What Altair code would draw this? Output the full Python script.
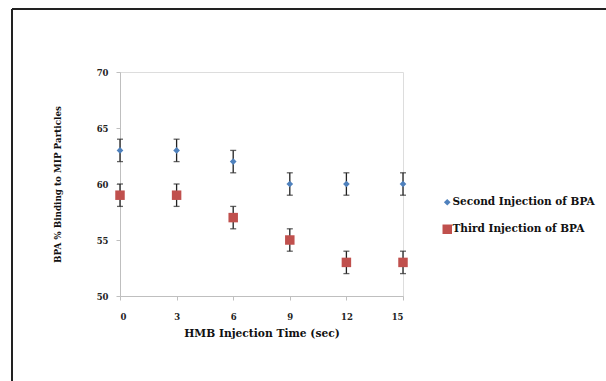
import altair as alt
import pandas as pd

times = [0, 3, 6, 9, 12, 15]
second = [63, 63, 62, 60, 60, 60]
third = [59, 59, 57, 55, 53, 53]
err_second = [1, 1, 1, 1, 1, 1]
err_third = [1, 1, 1, 1, 1, 1]
series_names = ["Second Injection of BPA", "Third Injection of BPA"]

rows = []
for t, v, e in zip(times, second, err_second):
    rows.append({"t": t, "v": v, "lo": v - e, "hi": v + e, "s": series_names[0]})
for t, v, e in zip(times, third, err_third):
    rows.append({"t": t, "v": v, "lo": v - e, "hi": v + e, "s": series_names[1]})
df = pd.DataFrame(rows)

FONT = "DejaVu Serif"
W, H = 283, 224
PL, PT = 120, 72

x = alt.X("t:Q", scale=alt.Scale(domain=[0, 15], nice=False, zero=False),
          axis=alt.Axis(values=times, title="HMB Injection Time  (sec)", grid=False,
                        domainColor="#bfbfbf", tickColor="#bfbfbf", tickSize=4,
                        labelFont=FONT, labelFontWeight="bold", labelFontSize=8.5, labelColor="#222",
                        labelPadding=12, titleFont=FONT, titleFontWeight="bold", titleFontSize=10.7,
                        titleColor="#111", titleY=37, titleBaseline="middle"))
y = alt.Y("v:Q", scale=alt.Scale(domain=[50, 70], nice=False, zero=False),
          axis=alt.Axis(values=[50, 55, 60, 65, 70], title="BPA % Binding to MIP Particles", grid=False,
                        domainColor="#bfbfbf", tickColor="#bfbfbf", tickSize=4,
                        labelFont=FONT, labelFontWeight="bold", labelFontSize=8.5, labelColor="#222",
                        labelPadding=8, titleFont=FONT, titleFontWeight="bold", titleFontSize=8.8,
                        titleColor="#111", titleX=-63, titleY=112, titleBaseline="middle"))

color = alt.Color("s:N", scale=alt.Scale(domain=series_names, range=["#4F81BD", "#C0504D"]),
                  legend=alt.Legend(title=None, orient="none", legendX=322, legendY=125,
                                    labelFont=FONT, labelFontWeight="bold", labelFontSize=10.5,
                                    labelColor="#111", rowPadding=16, symbolSize=50,
                                    symbolStrokeWidth=0, labelOffset=0))
shape = alt.Shape("s:N", scale=alt.Scale(domain=series_names, range=["diamond", "square"]))
size = alt.Size("s:N", scale=alt.Scale(domain=series_names, range=[45, 90]), legend=None)

base = alt.Chart(df)
bars = base.mark_rule(color="#222", strokeWidth=1.3).encode(x=x, y=alt.Y("lo:Q"), y2="hi:Q")
caps_hi = base.mark_tick(color="#222", thickness=1.3, size=6, orient="horizontal").encode(x=x, y=alt.Y("hi:Q"))
caps_lo = base.mark_tick(color="#222", thickness=1.3, size=6, orient="horizontal").encode(x=x, y=alt.Y("lo:Q"))
pts = base.mark_point(filled=True, opacity=1).encode(x=x, y=y, color=color, shape=shape, size=size)

frame_left = alt.Chart(pd.DataFrame({"a": [0]})).mark_rule(color="#222", strokeWidth=2).encode(
    x=alt.value(-108), y=alt.value(-63), y2=alt.value(340))
frame_top = alt.Chart(pd.DataFrame({"b": [0]})).mark_rule(color="#222", strokeWidth=2).encode(
    x=alt.value(-108), x2=alt.value(540), y=alt.value(-63))

chart = alt.layer(bars, caps_hi, caps_lo, pts, frame_left, frame_top).properties(
    width=W, height=H,
    autosize=alt.AutoSizeParams(type="none"),
    padding={"left": PL, "top": PT, "right": 606 - PL - W, "bottom": 381 - PT - H},
).configure_view(stroke=None).configure(background="white")

chart.save("out.html", embed_options={"renderer": "svg", "actions": False})
